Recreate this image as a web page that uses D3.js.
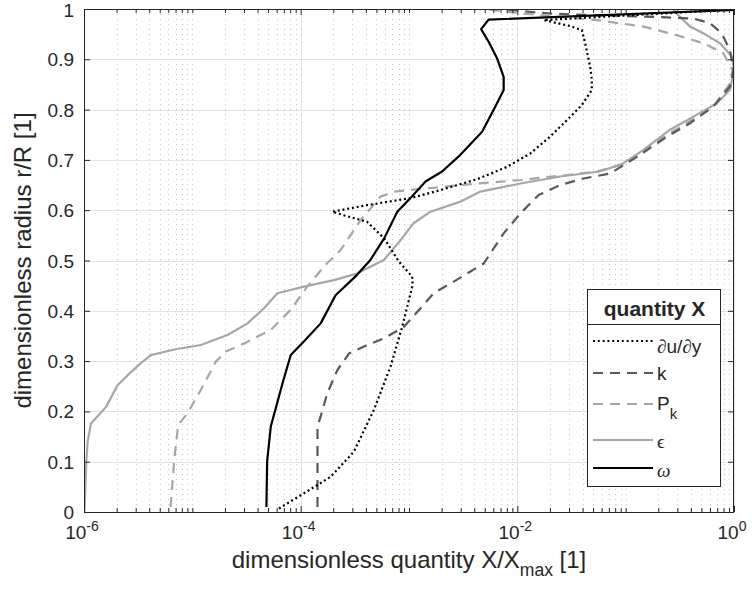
<!DOCTYPE html>
<html><head><meta charset="utf-8">
<script src="https://cdn.jsdelivr.net/npm/d3@7"></script>
<style>
body{margin:0;background:#fff}
text{font-family:"Liberation Sans",Arial,Helvetica,sans-serif;fill:#262626}
.sym{font-family:"Liberation Serif","DejaVu Serif",serif}
</style>
</head><body>
<svg id="c" width="752" height="596"></svg>
<script>
// ---- data ----
const xTickValues = [1e-6, 1e-4, 1e-2, 1];
const xTickExps = ["-6", "-4", "-2", "0"];
const yTickValues = [0, 0.1, 0.2, 0.3, 0.4, 0.5, 0.6, 0.7, 0.8, 0.9, 1];
const yTickLabels = ["0", "0.1", "0.2", "0.3", "0.4", "0.5", "0.6", "0.7", "0.8", "0.9", "1"];

const uduy_x = [6.3e-5, 1.07e-4, 1.89e-4, 3.1e-4, 4.74e-4, 6.75e-4, 8.65e-4, 1.08e-3, 1.07e-3, 8.05e-4, 5.9e-4, 4.1e-4, 2.5e-4, 1.96e-4, 4.1e-4, 1.03e-3, 1.95e-3, 4.3e-3, 8.0e-3, 1.32e-2, 2.0e-2, 2.87e-2, 3.94e-2, 4.87e-2, 4.87e-2, 4.7e-2, 4.23e-2, 3.94e-2, 3.08e-2, 1.75e-2, 1.0];
const uduy_r = [0.007, 0.037, 0.07, 0.12, 0.203, 0.289, 0.368, 0.451, 0.468, 0.498, 0.544, 0.577, 0.59, 0.597, 0.61, 0.624, 0.640, 0.662, 0.686, 0.713, 0.746, 0.779, 0.809, 0.839, 0.859, 0.885, 0.932, 0.958, 0.966, 0.978, 0.999];

const k_x = [1.43e-4, 1.43e-4, 1.53e-4, 1.76e-4, 2.18e-4, 2.79e-4, 3.84e-4, 5.86e-4, 8.95e-4, 1.28e-3, 1.69e-3, 2.59e-3, 4.89e-3, 7.48e-3, 1.07e-2, 1.57e-2, 2.49e-2, 4.08e-2, 7.2e-2, 0.127, 0.24, 0.393, 0.644, 0.918, 0.99, 0.918, 0.769, 0.599, 0.42, 0.2, 0.1, 0.047, 0.02, 0.012, 0.008];
const k_r = [0.01, 0.17, 0.19, 0.236, 0.282, 0.315, 0.329, 0.345, 0.368, 0.405, 0.435, 0.458, 0.494, 0.554, 0.594, 0.630, 0.65, 0.663, 0.673, 0.706, 0.746, 0.773, 0.806, 0.846, 0.879, 0.918, 0.952, 0.972, 0.981, 0.984, 0.986, 0.988, 0.991, 0.995, 0.999];

const pk_x = [6.3e-6, 6.8e-6, 7.4e-6, 9.0e-6, 1.2e-5, 1.65e-5, 2.04e-5, 3.0e-5, 5.3e-5, 8.1e-5, 1.15e-4, 1.64e-4, 2.34e-4, 3.57e-4, 5.46e-4, 7.2e-4, 1.4e-3, 4.25e-3, 1.07e-2, 2.87e-2, 5.4e-2, 0.103, 0.18, 0.366, 0.644, 0.92, 0.97, 0.796, 0.52, 0.296, 0.146, 0.054, 0.02, 0.01, 0.0055];
const pk_r = [0.01, 0.103, 0.173, 0.196, 0.243, 0.299, 0.319, 0.335, 0.362, 0.402, 0.448, 0.488, 0.521, 0.58, 0.627, 0.637, 0.643, 0.653, 0.66, 0.67, 0.677, 0.693, 0.733, 0.773, 0.806, 0.852, 0.879, 0.912, 0.932, 0.948, 0.965, 0.978, 0.986, 0.992, 0.999];

const eps_x = [1.01e-6, 1.03e-6, 1.05e-6, 1.08e-6, 1.16e-6, 1.6e-6, 2.04e-6, 2.53e-6, 3.35e-6, 4.15e-6, 6.8e-6, 1.2e-5, 2.11e-5, 3.23e-5, 4.59e-5, 6.1e-5, 1.07e-4, 2.03e-4, 3.3e-4, 5.86e-4, 8.4e-4, 1.1e-3, 1.58e-3, 2.98e-3, 4.56e-3, 1.07e-2, 2.49e-2, 5.75e-2, 0.095, 0.146, 0.257, 0.422, 0.69, 0.918, 1.0, 0.96, 0.743, 0.52, 0.393, 0.296, 0.275];
const eps_r = [0.0, 0.05, 0.1, 0.14, 0.176, 0.209, 0.252, 0.272, 0.296, 0.312, 0.323, 0.332, 0.352, 0.375, 0.405, 0.435, 0.448, 0.461, 0.474, 0.501, 0.541, 0.574, 0.597, 0.617, 0.637, 0.653, 0.667, 0.677, 0.693, 0.72, 0.76, 0.786, 0.812, 0.839, 0.879, 0.905, 0.932, 0.952, 0.965, 0.991, 1.0];

const om_x = [4.83e-5, 4.9e-5, 5.3e-5, 6.8e-5, 8.1e-5, 1.07e-4, 1.53e-4, 2.1e-4, 3.3e-4, 4.4e-4, 5.9e-4, 7.8e-4, 1.03e-3, 1.42e-3, 2.02e-3, 2.98e-3, 4.73e-3, 6.27e-3, 7.48e-3, 7.48e-3, 6.5e-3, 5.43e-3, 4.63e-3, 5.43e-3, 1.0];
const om_r = [0.01, 0.10, 0.17, 0.256, 0.312, 0.339, 0.375, 0.431, 0.471, 0.501, 0.544, 0.597, 0.624, 0.657, 0.677, 0.71, 0.756, 0.806, 0.839, 0.865, 0.902, 0.935, 0.96, 0.979, 0.998];

// ---- layout ----
const L = 84, R = 734, T = 9, B = 512;
const svg = d3.select("#c");
const x = d3.scaleLog().domain([1e-6, 1]).range([L, R]);
const y = d3.scaleLinear().domain([0, 1]).range([B, T]);
const axisColor = "#262626";

svg.append("rect").attr("x", L).attr("y", T).attr("width", R - L).attr("height", B - T).attr("fill", "#fff");
svg.append("defs").append("clipPath").attr("id", "clip")
  .append("rect").attr("x", L).attr("y", T).attr("width", R - L).attr("height", B - T);

const minorX = [];
for (let e = -6; e < 0; e++) for (let m = 1; m <= 9; m++) {
  const v = m * Math.pow(10, e);
  if (!(m === 1 && e % 2 === 0)) minorX.push(v);
}

// grid
const grid = svg.append("g");
grid.selectAll(".gm").data(minorX).join("line")
  .attr("x1", d => Math.round(x(d)) + 0.5).attr("x2", d => Math.round(x(d)) + 0.5)
  .attr("y1", T).attr("y2", B)
  .attr("stroke", "#c4c4c4").attr("stroke-width", 1).attr("stroke-dasharray", "1,4");
grid.selectAll(".gx").data(xTickValues).join("line")
  .attr("x1", d => Math.round(x(d)) + 0.5).attr("x2", d => Math.round(x(d)) + 0.5)
  .attr("y1", T).attr("y2", B).attr("stroke", "#e3e3e3").attr("stroke-width", 1);
grid.selectAll(".gy").data(yTickValues).join("line")
  .attr("x1", L).attr("x2", R)
  .attr("y1", d => Math.round(y(d)) + 0.5).attr("y2", d => Math.round(y(d)) + 0.5)
  .attr("stroke", "#e3e3e3").attr("stroke-width", 1);

// curves
const line = d3.line().x(d => x(d[0])).y(d => y(d[1]));
const series = [
  {xs: eps_x, rs: eps_r, color: "#a6a6a6", dash: null},
  {xs: pk_x, rs: pk_r, color: "#a6a6a6", dash: "10,7"},
  {xs: k_x, rs: k_r, color: "#595959", dash: "10,7"},
  {xs: uduy_x, rs: uduy_r, color: "#000", dash: "2,2.8"},
  {xs: om_x, rs: om_r, color: "#000", dash: null}
];
const cg = svg.append("g").attr("clip-path", "url(#clip)");
series.forEach(s => {
  cg.append("path").datum(s.xs.map((v, i) => [v, s.rs[i]]))
    .attr("d", line).attr("fill", "none").attr("stroke", s.color)
    .attr("stroke-width", 2.2).attr("stroke-linejoin", "round")
    .attr("stroke-dasharray", s.dash);
});

// axes (ticks inside, box)
function styleAxis(g) {
  g.select(".domain").remove();
  g.selectAll("line").attr("stroke", axisColor);
  g.selectAll("text").remove();
}
svg.append("g").attr("transform", `translate(0,${B})`)
  .call(d3.axisBottom(x).tickValues(xTickValues).tickSize(-6)).call(styleAxis);
svg.append("g").attr("transform", `translate(0,${B})`)
  .call(d3.axisBottom(x).tickValues(minorX).tickSize(-4)).call(styleAxis);
svg.append("g").attr("transform", `translate(0,${T})`)
  .call(d3.axisTop(x).tickValues(xTickValues).tickSize(-6)).call(styleAxis);
svg.append("g").attr("transform", `translate(0,${T})`)
  .call(d3.axisTop(x).tickValues(minorX).tickSize(-4)).call(styleAxis);
svg.append("g").attr("transform", `translate(${L},0)`)
  .call(d3.axisLeft(y).tickValues(yTickValues).tickSize(-6)).call(styleAxis);
svg.append("g").attr("transform", `translate(${R},0)`)
  .call(d3.axisRight(y).tickValues(yTickValues).tickSize(-6)).call(styleAxis);

svg.append("rect").attr("x", L + 0.5).attr("y", T + 0.5).attr("width", R - L - 1).attr("height", B - T)
  .attr("fill", "none").attr("stroke", axisColor).attr("stroke-width", 1);

// tick labels
const yFs = 19;
svg.selectAll(".yl").data(yTickValues).join("text")
  .attr("x", L - 10).attr("y", d => Math.max(y(d) + 7, yFs * 0.92))
  .attr("text-anchor", "end")
  .attr("font-size", yFs).text((d, i) => yTickLabels[i]);
const xl = svg.selectAll(".xl").data(xTickValues).join("text")
  .attr("x", d => x(d) - 2).attr("y", B + 27).attr("text-anchor", "middle").attr("font-size", 19);
xl.append("tspan").text("10");
xl.append("tspan").attr("dy", -8).attr("font-size", 14).text((d, i) => xTickExps[i]);

// axis labels
const xlab = svg.append("text").attr("x", (L + R) / 2).attr("y", 568).attr("text-anchor", "middle").attr("font-size", 24);
xlab.append("tspan").text("dimensionless quantity X/X");
xlab.append("tspan").attr("dy", 8).attr("font-size", 17.5).text("max");
xlab.append("tspan").attr("dy", -8).text(" [1]");
svg.append("text").attr("transform", `translate(31,${(T + B) / 2}) rotate(-90)`)
  .attr("text-anchor", "middle").attr("font-size", 24).text("dimensionless radius r/R [1]");

// legend
const lg = svg.append("g");
const lx = 587, ly = 289, lw = 133, lh = 197;
lg.append("rect").attr("x", lx + 0.5).attr("y", ly + 0.5).attr("width", lw).attr("height", lh)
  .attr("fill", "#fff").attr("stroke", axisColor).attr("stroke-width", 1);
lg.append("line").attr("x1", lx).attr("x2", lx + lw).attr("y1", 324.5).attr("y2", 324.5).attr("stroke", axisColor);
lg.append("text").attr("x", lx + lw / 2 + 1).attr("y", 316).attr("text-anchor", "middle")
  .attr("font-size", 21).attr("font-weight", "bold").text("quantity X");
const legItems = [
  {ly: 341, ty: 353, s: series[3]},
  {ly: 373, ty: 380, s: series[2]},
  {ly: 404, ty: 410, s: series[1]},
  {ly: 440, ty: 448, s: series[0]},
  {ly: 468, ty: 477, s: series[4]}
];
legItems.forEach((it, i) => {
  lg.append("line").attr("x1", 593).attr("x2", 653).attr("y1", it.ly).attr("y2", it.ly)
    .attr("stroke", it.s.color).attr("stroke-width", 2.2).attr("stroke-dasharray", it.s.dash);
  const t = lg.append("text").attr("x", 657).attr("y", it.ty).attr("font-size", 19);
  if (i === 0) {
    t.append("tspan").attr("class", "sym").attr("font-style", "italic").text("\u2202");
    t.append("tspan").text("u/");
    t.append("tspan").attr("class", "sym").attr("font-style", "italic").text("\u2202");
    t.append("tspan").text("y");
  } else if (i === 1) {
    t.text("k");
  } else if (i === 2) {
    t.append("tspan").text("P");
    t.append("tspan").attr("dy", 9).attr("font-size", 15).text("k");
  } else if (i === 3) {
    t.append("tspan").attr("class", "sym").text("\u03f5");
  } else {
    t.append("tspan").attr("class", "sym").attr("font-style", "italic").text("\u03c9");
  }
});
</script>
</body></html>
